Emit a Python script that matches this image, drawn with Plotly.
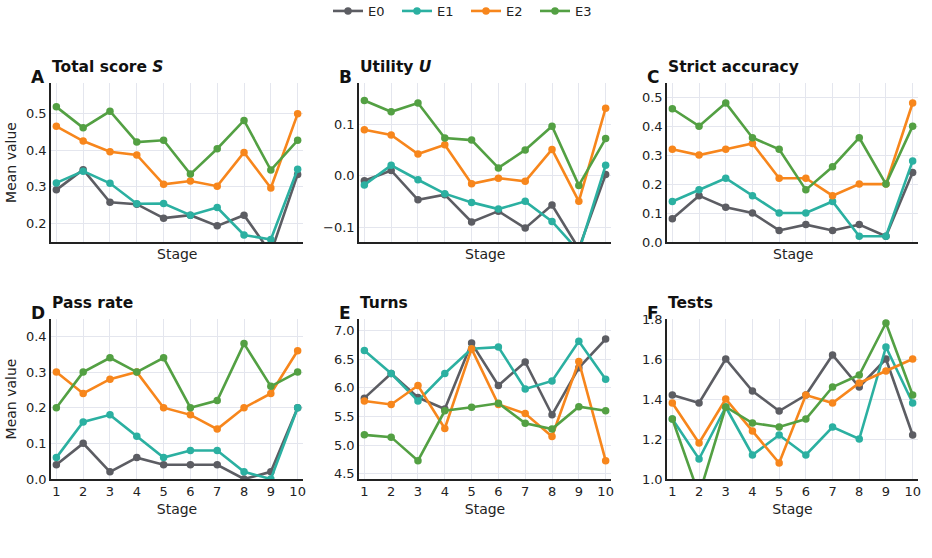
import plotly.graph_objects as go
from plotly.subplots import make_subplots

stages = [1, 2, 3, 4, 5, 6, 7, 8, 9, 10]
series_names = ["E0", "E1", "E2", "E3"]
colors = ["#5c5d63", "#2bb0a1", "#f7861c", "#53a043"]

total_E0 = [0.292, 0.347, 0.258, 0.253, 0.215, 0.223, 0.194, 0.223, 0.12, 0.334]
total_E1 = [0.311, 0.343, 0.310, 0.254, 0.255, 0.223, 0.244, 0.169, 0.157, 0.348]
total_E2 = [0.465, 0.425, 0.396, 0.387, 0.307, 0.316, 0.302, 0.394, 0.297, 0.499]
total_E3 = [0.518, 0.461, 0.506, 0.422, 0.427, 0.335, 0.404, 0.481, 0.346, 0.427]

util_E0 = [-0.010, 0.010, -0.047, -0.037, -0.090, -0.069, -0.102, -0.057, -0.142, 0.002]
util_E1 = [-0.018, 0.020, -0.008, -0.035, -0.052, -0.065, -0.050, -0.089, -0.147, 0.020]
util_E2 = [0.089, 0.079, 0.042, 0.060, -0.016, -0.005, -0.011, 0.051, -0.050, 0.131]
util_E3 = [0.146, 0.124, 0.141, 0.073, 0.069, 0.015, 0.050, 0.096, -0.019, 0.072]

strict_E0 = [0.08, 0.16, 0.12, 0.10, 0.04, 0.06, 0.04, 0.06, 0.02, 0.24]
strict_E1 = [0.14, 0.18, 0.22, 0.16, 0.10, 0.10, 0.14, 0.02, 0.02, 0.28]
strict_E2 = [0.32, 0.30, 0.32, 0.34, 0.22, 0.22, 0.16, 0.20, 0.20, 0.48]
strict_E3 = [0.46, 0.40, 0.48, 0.36, 0.32, 0.18, 0.26, 0.36, 0.20, 0.40]

pass_E0 = [0.04, 0.10, 0.02, 0.06, 0.04, 0.04, 0.04, 0.00, 0.02, 0.20]
pass_E1 = [0.06, 0.16, 0.18, 0.12, 0.06, 0.08, 0.08, 0.02, 0.00, 0.20]
pass_E2 = [0.30, 0.24, 0.28, 0.30, 0.20, 0.18, 0.14, 0.20, 0.24, 0.36]
pass_E3 = [0.20, 0.30, 0.34, 0.30, 0.34, 0.20, 0.22, 0.38, 0.26, 0.30]

turns_E0 = [5.82, 6.25, 5.83, 5.63, 6.78, 6.04, 6.45, 5.53, 6.35, 6.85]
turns_E1 = [6.65, 6.25, 5.77, 6.25, 6.68, 6.71, 5.98, 6.12, 6.81, 6.15]
turns_E2 = [5.77, 5.71, 6.04, 5.29, 6.68, 5.71, 5.55, 5.15, 6.46, 4.73]
turns_E3 = [5.18, 5.14, 4.73, 5.60, 5.66, 5.73, 5.38, 5.28, 5.67, 5.60]

tests_E0 = [1.42, 1.38, 1.60, 1.44, 1.34, 1.42, 1.62, 1.46, 1.60, 1.22]
tests_E1 = [1.30, 1.10, 1.36, 1.12, 1.22, 1.12, 1.26, 1.20, 1.66, 1.38]
tests_E2 = [1.38, 1.18, 1.40, 1.24, 1.08, 1.42, 1.38, 1.48, 1.54, 1.60]
tests_E3 = [1.30, 0.92, 1.36, 1.28, 1.26, 1.30, 1.46, 1.52, 1.78, 1.42]

panels = [
    ("A", "<b>Total score <i>S</i></b>", [total_E0, total_E1, total_E2, total_E3], [0.15, 0.583], [0.2, 0.3, 0.4, 0.5], ["0.2", "0.3", "0.4", "0.5"]),
    ("B", "<b>Utility <i>U</i></b>", [util_E0, util_E1, util_E2, util_E3], [-0.129, 0.18], [-0.1, 0.0, 0.1], ["\u22120.1", "0.0", "0.1"]),
    ("C", "<b>Strict accuracy</b>", [strict_E0, strict_E1, strict_E2, strict_E3], [0.0, 0.549], [0, 0.1, 0.2, 0.3, 0.4, 0.5], ["0.0", "0.1", "0.2", "0.3", "0.4", "0.5"]),
    ("D", "<b>Pass rate</b>", [pass_E0, pass_E1, pass_E2, pass_E3], [0.0, 0.449], [0, 0.1, 0.2, 0.3, 0.4], ["0.0", "0.1", "0.2", "0.3", "0.4"]),
    ("E", "<b>Turns</b>", [turns_E0, turns_E1, turns_E2, turns_E3], [4.41, 7.2], [4.5, 5.0, 5.5, 6.0, 6.5, 7.0], ["4.5", "5.0", "5.5", "6.0", "6.5", "7.0"]),
    ("F", "<b>Tests</b>", [tests_E0, tests_E1, tests_E2, tests_E3], [1.0, 1.8], [1.0, 1.2, 1.4, 1.6, 1.8], ["1.0", "1.2", "1.4", "1.6", "1.8"]),
]

W, H = 932, 558
xdom_px = [(51, 303), (359, 611), (667, 918)]
ydom_px = [(83, 242), (319, 479)]

fig = make_subplots(rows=2, cols=3)
font_family = "DejaVu Sans"

for i, (letter, title, data, yr, tv, tt) in enumerate(panels):
    r, c = i // 3, i % 3
    for k, vals in enumerate(data):
        fig.add_trace(go.Scatter(
            x=stages, y=vals, mode="lines+markers", name=series_names[k],
            line=dict(color=colors[k], width=2.6),
            marker=dict(color=colors[k], size=7.5),
            showlegend=(i == 0), legendgroup=series_names[k], cliponaxis=True,
        ), row=r + 1, col=c + 1)
    x0, x1 = xdom_px[c]
    y0, y1 = ydom_px[r]
    xa = "xaxis" if i == 0 else f"xaxis{i+1}"
    ya = "yaxis" if i == 0 else f"yaxis{i+1}"
    fig.layout[xa].update(
        domain=[x0 / W, x1 / W], range=[0.8, 10.2], automargin=False,
        tickvals=stages, ticktext=[str(s) for s in stages],
        showticklabels=(r == 1),
        showgrid=True, gridcolor="#e4e6ee", gridwidth=1, zeroline=False,
        showline=True, linecolor="#222222", linewidth=1.6, ticks="",
        tickfont=dict(size=13, color="#222222"),
        title=dict(text="Stage" if r == 1 else "", font=dict(size=14, color="#222222"), standoff=6),
    )
    if r == 0:
        fig.add_annotation(text="Stage", xref="paper", yref="paper",
                           x=(x0 + x1) / 2 / W, y=1 - 254 / H, xanchor="center", yanchor="middle",
                           showarrow=False, font=dict(size=14, color="#222222", family=font_family))
    fig.layout[ya].update(
        domain=[1 - y1 / H, 1 - y0 / H], range=yr, automargin=False,
        tickvals=tv, ticktext=tt,
        showgrid=True, gridcolor="#e4e6ee", gridwidth=1, zeroline=False,
        showline=True, linecolor="#222222", linewidth=1.6, ticks="",
        tickfont=dict(size=13, color="#222222"),
        title=dict(text="Mean value" if c == 0 else "", font=dict(size=14, color="#222222"), standoff=6),
    )
    fig.add_annotation(text=title, xref="paper", yref="paper",
                       x=(x0 - 1) / W, y=1 - (y0 - 16) / H, xanchor="left", yanchor="middle",
                       showarrow=False, font=dict(size=15.5, color="#111111", family=font_family))
    fig.add_annotation(text=f"<b>{letter}</b>", xref="paper", yref="paper",
                       x=(x0 - 22) / W, y=1 - (y0 - 6) / H, xanchor="left", yanchor="middle",
                       showarrow=False, font=dict(size=17, color="#111111", family=font_family))

fig.update_layout(
    width=W, height=H, margin=dict(l=0, r=0, t=0, b=0, autoexpand=False),
    paper_bgcolor="white", plot_bgcolor="white",
    font=dict(family=font_family, color="#222222"),
    legend=dict(orientation="h", x=0.5, xanchor="center",
                y=1 - 11 / H, yanchor="middle",
                font=dict(size=13), itemwidth=30, entrywidth=24, tracegroupgap=0,
                bgcolor="rgba(0,0,0,0)"),
)

fig.write_html("out.html")
